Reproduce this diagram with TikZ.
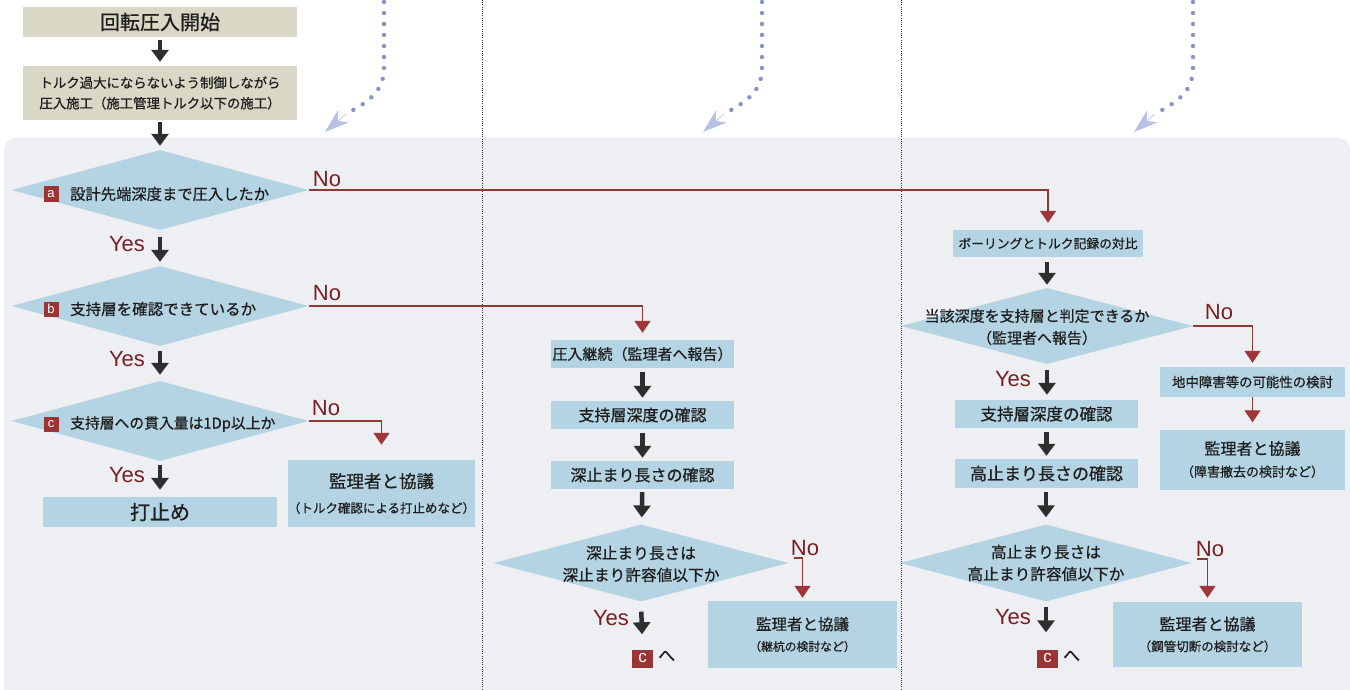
\documentclass[tikz,border=0pt]{standalone}
\usepackage{fontspec}
\setmainfont{Noto Sans CJK JP}[RawFeature={embolden=0.7}]
\newfontfamily\lat{Liberation Sans}
\usetikzlibrary{arrows.meta,shapes.geometric}
\definecolor{panel}{HTML}{EEEFF2}
\definecolor{boxblue}{HTML}{B4D4E4}
\definecolor{beige}{HTML}{D9D7C5}
\definecolor{redline}{HTML}{8E3A30}
\definecolor{redhead}{HTML}{A0353B}
\definecolor{yn}{HTML}{7A1E24}
\definecolor{badge}{HTML}{9B3434}
\definecolor{dotblue}{HTML}{8494C8}
\definecolor{tipblue}{HTML}{B5C2E3}
\definecolor{ink}{HTML}{1E1E1E}
\definecolor{blk}{HTML}{2E2E2E}
\tikzset{
 bx/.style={fill=boxblue, inner sep=0pt, text=ink, align=center},
 beigebox/.style={fill=beige, inner sep=0pt, text=ink, align=center},
 dia/.style={diamond, fill=boxblue, inner sep=0pt},
 qtext/.style={text=ink, inner sep=0pt, align=center},
 blkarrow/.style={draw=blk, line width=4.5pt, -{Triangle[width=17pt,length=12pt]}, shorten <=4pt, shorten >=4pt},
 redarrow/.style={draw=redline, line width=1.4pt, -{Triangle[width=16pt,length=12pt,fill=redhead,color=redhead]}},
 ynlabel/.style={text=yn, font=\lat\fontsize{22}{22}\selectfont, inner sep=0pt},
 badgebox/.style={fill=badge, text=white, font=\lat\fontsize{13}{13}\selectfont, minimum width=15pt, minimum height=15pt, inner sep=0pt},
 bigbadge/.style={fill=badge, text=white, font=\lat\fontsize{17}{17}\selectfont, minimum width=21pt, minimum height=18pt, inner sep=0pt},
 dotcurve/.style={draw=dotblue, line width=4.4pt, line cap=round, dash pattern=on 0pt off 11pt},
 tiparrow/.style={draw=tipblue, line width=0.6pt, -{Stealth[length=24pt,width=16pt,inset=7pt,fill=tipblue]}},
 sepline/.style={draw=black!80, line width=1pt, dash pattern=on 1pt off 1.2pt},
}
\begin{document}
\begin{tikzpicture}[x=1pt,y=-1pt]
\useasboundingbox (0,0) rectangle (1350,690);
\fill[white] (0,0) rectangle (1350,690);
\fill[panel, rounded corners=12pt] (4,700) -- (4,138) -- (1350,138) -- (1350,700) -- cycle;
\draw[sepline] (482,0) -- (482,690);
\draw[sepline] (901,0) -- (901,690);
% dotted curved arrows
\foreach \x in {384,762,1193} {
  \coordinate (s\x) at (\x,2);
  \coordinate (k\x) at (\x,68);
  \coordinate (m\x) at (\x-38,114);
  \coordinate (e\x) at (\x-59,132);
  \draw[dotcurve] (s\x) -- (k\x) .. controls (\x,92) and (\x-16,102) .. (m\x);
  \draw[tiparrow] (m\x) -- (e\x);
}
% left column
\node[beigebox, minimum width=274pt, minimum height=30pt, font=\fontsize{20}{20}\selectfont] (t1) at (160,22) {回転圧入開始};
\node[beigebox, minimum width=274pt, minimum height=54pt, font=\fontsize{13.4}{20.5}\selectfont] (t2) at (160,93) {トルク過大にならないよう制御しながら\\圧入施工（施工管理トルク以下の施工）};
\node[dia, minimum width=297pt, minimum height=80pt] (da) at (160,190) {};
\node[dia, minimum width=297pt, minimum height=80pt] (db) at (160,306) {};
\node[dia, minimum width=297pt, minimum height=80pt] (dc) at (160,421) {};
\node[badgebox] (ba) at (51,194) {a};
\node[badgebox] (bb) at (51,309) {b};
\node[badgebox] (bc) at (51,424) {c};
\node[qtext, anchor=west, font=\fontsize{15.3}{15}\selectfont] (qa) at (70,194) {設計先端深度まで圧入したか};
\node[qtext, anchor=west, font=\fontsize{15.5}{15}\selectfont] (qb) at (70,309) {支持層を確認できているか};
\node[qtext, anchor=west, font=\fontsize{14.8}{15}\selectfont] (qc) at (70,424) {支持層への貫入量は1Dp以上か};
\node[bx, minimum width=234pt, minimum height=30pt, font=\fontsize{20}{20}\selectfont] (l1) at (160,512) {打止め};
\node[bx, minimum width=187pt, minimum height=67pt, font=\fontsize{12.5}{25}\selectfont] (l2) at (381.5,493.5) {{\fontsize{17.5}{25}\selectfont 監理者と協議}\\（トルク確認による打止めなど）};
% middle column
\node[bx, minimum width=183pt, minimum height=28pt, font=\fontsize{15}{15}\selectfont] (m1) at (642.5,354) {圧入継続（監理者へ報告）};
\node[bx, minimum width=183pt, minimum height=28pt, font=\fontsize{16}{16}\selectfont] (m2) at (642.5,415) {支持層深度の確認};
\node[bx, minimum width=183pt, minimum height=28pt, font=\fontsize{16}{16}\selectfont] (m3) at (642.5,475) {深止まり長さの確認};
\node[dia, minimum width=295pt, minimum height=77pt] (dm) at (641,563) {};
\node[qtext, font=\fontsize{15.7}{22}\selectfont] (qm) at (641,564) {深止まり長さは\\深止まり許容値以下か};
\node[bx, minimum width=189pt, minimum height=67pt, font=\fontsize{11.8}{21}\selectfont] (m4) at (802.5,634.5) {{\fontsize{15.5}{21}\selectfont 監理者と協議}\\（継杭の検討など）};
\node[bigbadge] (cm) at (642.5,658.5) {c};
\node[qtext, anchor=west, font=\fontsize{17}{17}\selectfont] (hm) at (658,656) {へ};
% right column
\node[bx, minimum width=190pt, minimum height=27pt, font=\fontsize{12.8}{13}\selectfont] (r1) at (1048,243.5) {ボーリングとトルク記録の対比};
\node[dia, minimum width=292pt, minimum height=76pt] (dr) at (1047,326) {};
\node[qtext, font=\fontsize{15}{22}\selectfont] (qr) at (1037,327) {当該深度を支持層と判定できるか\\（監理者へ報告）};
\node[bx, minimum width=185pt, minimum height=30pt, font=\fontsize{13.4}{14}\selectfont] (r2) at (1252.5,382) {地中障害等の可能性の検討};
\node[bx, minimum width=185pt, minimum height=60pt, font=\fontsize{13}{22}\selectfont] (r3) at (1252.5,459.5) {{\fontsize{16}{22}\selectfont 監理者と協議}\\（障害撤去の検討など）};
\node[bx, minimum width=183pt, minimum height=28pt, font=\fontsize{16.5}{17}\selectfont] (r4) at (1046.5,414) {支持層深度の確認};
\node[bx, minimum width=183pt, minimum height=29pt, font=\fontsize{17}{17}\selectfont] (r5) at (1046.5,473.5) {高止まり長さの確認};
\node[dia, minimum width=292pt, minimum height=77pt] (dr2) at (1046,563) {};
\node[qtext, font=\fontsize{15.7}{22}\selectfont] (qr2) at (1046,563) {高止まり長さは\\高止まり許容値以下か};
\node[bx, minimum width=189pt, minimum height=65pt, font=\fontsize{12.5}{21}\selectfont] (r6) at (1207.5,634.5) {{\fontsize{16}{21}\selectfont 監理者と協議}\\（鋼管切断の検討など）};
\node[bigbadge] (cr) at (1047.5,658.5) {c};
\node[qtext, anchor=west, font=\fontsize{17}{17}\selectfont] (hr) at (1063,656) {へ};
% Yes / No labels
\node[ynlabel] (ya) at (127,244) {Yes};
\node[ynlabel] (yb) at (127,359) {Yes};
\node[ynlabel] (yc) at (127,475) {Yes};
\node[ynlabel] (ym) at (611,618) {Yes};
\node[ynlabel] (yr) at (1013,379) {Yes};
\node[ynlabel] (yr2) at (1013,617) {Yes};
\node[ynlabel] (na) at (327,179) {No};
\node[ynlabel] (nb) at (327,293) {No};
\node[ynlabel] (nc) at (326,408) {No};
\node[ynlabel] (nm) at (805,548) {No};
\node[ynlabel] (nr) at (1219,312) {No};
\node[ynlabel] (nr2) at (1210,549) {No};
% black arrows
\draw[blkarrow, shorten <=3pt] (t1) -- (t2);
\draw[blkarrow, shorten <=2pt] (t2) -- (da);
\draw[blkarrow, shorten <=7pt] (da) -- (db);
\draw[blkarrow, shorten <=5pt, shorten >=6pt] (db) -- (dc);
\draw[blkarrow, shorten >=7pt] (dc) -- (l1);
\draw[blkarrow, shorten >=3pt] (m1) -- (m2);
\draw[blkarrow, shorten >=3pt] (m2) -- (m3);
\draw[blkarrow, shorten <=3pt, shorten >=7pt] (m3) -- (dm);
\draw[blkarrow, shorten <=10pt, shorten >=15pt] (dm.south) -- (cm.north);
\draw[blkarrow, shorten <=5pt, shorten >=3pt] (r1.south -| dr.north) -- (dr.north);
\draw[blkarrow, shorten <=6pt, shorten >=5pt] (dr.south) -- (dr.south |- r4.north);
\draw[blkarrow, shorten >=3pt] (r4) -- (r5);
\draw[blkarrow, shorten >=7pt] (r5.south -| dr2.north) -- (dr2.north);
\draw[blkarrow, shorten <=5pt, shorten >=17pt] (dr2.south) -- (dr2.south |- cr.north);
% red connectors
\draw[redarrow, shorten >=7pt] (da.east) -| (r1.north);
\draw[redarrow, shorten >=7pt] (db.east) -| (m1.north);
\draw[redarrow, shorten >=15pt] (dc.east) -| (l2.north);
\draw[redarrow, shorten >=3pt] ([xshift=5pt,yshift=5pt]dm.east) -| (m4.north);
\draw[redarrow, shorten >=4pt] (dr.east) -| (r2.north);
\draw[redarrow, line width=1pt, shorten >=7pt] (r2) -- (r3);
\draw[redarrow, shorten >=4pt] ([xshift=5pt,yshift=4pt]dr2.east) -| (r6.north);
\end{tikzpicture}
\end{document}
